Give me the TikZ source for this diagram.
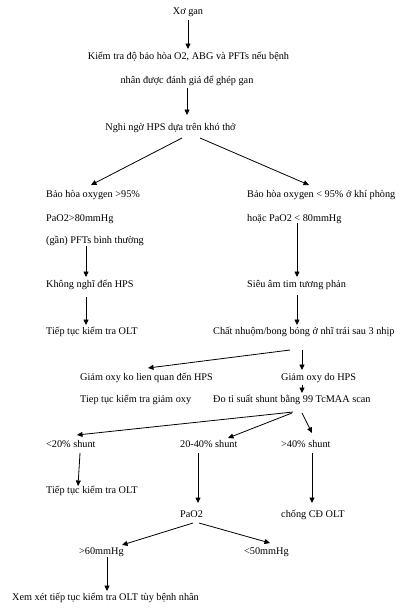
\documentclass[tikz,border=0pt]{standalone}
\usepackage{fontspec}
\setmainfont{Liberation Serif}
\usetikzlibrary{arrows.meta}
\begin{document}
\begin{tikzpicture}[x=1pt,y=-1pt,
  txt/.style={inner sep=0pt,anchor=mid west,font=\fontsize{10.25}{12}\selectfont},
  ctxt/.style={inner sep=0pt,anchor=mid,font=\fontsize{10.25}{12}\selectfont},
  arr/.style={draw=black,line width=0.8pt,-{Triangle[length=5.5pt,width=5pt]}}]
\fill[white] (0,0) rectangle (402,611);
\useasboundingbox (0,0) rectangle (402,611);
% nodes
\node[ctxt] (n1) at (188,12) {Xơ gan};
\node[ctxt] (n2) at (188.5,57) {Kiểm tra độ bảo hòa O2, ABG và PFTs nếu bệnh};
\node[ctxt] (n3) at (187,81) {nhân được đánh giá để ghép gan};
\node[ctxt] (n4) at (170.5,128) {Nghi ngờ HPS dựa trên khó thở};
\node[txt] (n5) at (46,195) {Bảo hòa oxygen >95\%};
\node[txt] (n6) at (46,219) {PaO2>80mmHg};
\node[txt] (n7) at (46,241) {(gần) PFTs bình thường};
\node[txt] (n8) at (247,195) {Bảo hòa oxygen < 95\% ở khí phòng};
\node[txt] (n9) at (247,219) {hoặc PaO2 < 80mmHg};
\node[txt] (n10) at (46,285) {Không nghĩ đến HPS};
\node[txt] (n11) at (46,332) {Tiếp tục kiểm tra OLT};
\node[txt] (n12) at (247,285) {Siêu âm tim tương phản};
\node[txt] (n13) at (213,332) {Chất nhuộm/bong bóng ở nhĩ trái sau 3 nhịp};
\node[txt] (n14) at (80,378) {Giảm oxy ko lien quan đến HPS};
\node[txt] (n15) at (80,400) {Tiep tục kiểm tra giảm oxy};
\node[txt] (n16) at (281,378) {Giảm oxy do HPS};
\node[txt] (n17) at (213,400) {Đo tỉ suất shunt bằng 99 TcMAA scan};
\node[txt] (n18) at (46,445) {<20\% shunt};
\node[txt] (n19) at (180,445) {20-40\% shunt};
\node[txt] (n20) at (281,445) {>40\% shunt};
\node[txt] (n21) at (46,491) {Tiếp tục kiểm tra OLT};
\node[txt] (n22) at (180,515) {PaO2};
\node[txt] (n23) at (281,515) {chống CĐ OLT};
\node[txt] (n24) at (79,552) {>60mmHg};
\node[txt] (n25) at (244,552) {<50mmHg};
\node[txt] (n26) at (12,598) {Xem xét tiếp tục kiểm tra OLT tùy bệnh nhân};
% connectors
\draw[arr] ([shift={(0,8)}]n1.mid) -- ([shift={(-0.5,-8)}]n2.mid);
\draw[arr] ([shift={(0,7)}]n3.mid) -- ([shift={(16.5,-13)}]n4.mid);
\draw[arr] ([shift={(11.5,10)}]n4.mid) -- ([shift={(45,-10)}]n5.mid west);
\draw[arr] ([shift={(29.5,10)}]n4.mid) -- ([shift={(62,-10)}]n8.mid west);
\draw[arr] ([shift={(40,5)}]n7.mid west) -- ([shift={(40,-8)}]n10.mid west);
\draw[arr] ([shift={(50,4)}]n9.mid west) -- ([shift={(50,-8)}]n12.mid west);
\draw[arr] ([shift={(40,12)}]n10.mid west) -- ([shift={(40,-7)}]n11.mid west);
\draw[arr] ([shift={(50,10)}]n12.mid west) -- ([shift={(84,-7)}]n13.mid west);
\draw[arr] ([shift={(77,18)}]n13.mid west) -- ([shift={(68,-10)}]n14.mid west);
\draw[arr] ([shift={(89,18)}]n13.mid west) -- ([shift={(21,-8)}]n16.mid west);
\draw[arr] ([shift={(21,7)}]n16.mid west) -- ([shift={(89,-7)}]n17.mid west);
\draw[arr] ([shift={(80,12)}]n17.mid west) -- ([shift={(31,-10)}]n18.mid west);
\draw[arr] ([shift={(79,13)}]n17.mid west) -- ([shift={(48,-7)}]n19.mid west);
\draw[arr] ([shift={(89,13)}]n17.mid west) -- ([shift={(31,-12)}]n20.mid west);
\draw[arr] ([shift={(34,8)}]n18.mid west) -- ([shift={(32,-5)}]n21.mid west);
\draw[arr] ([shift={(18,8)}]n19.mid west) -- ([shift={(18,-12)}]n22.mid west);
\draw[arr] ([shift={(31,8)}]n20.mid west) -- ([shift={(31,-12)}]n23.mid west);
\draw[arr] ([shift={(13,8)}]n22.mid west) -- ([shift={(43,-7)}]n24.mid west);
\draw[arr] ([shift={(19,8)}]n22.mid west) -- ([shift={(26,-9)}]n25.mid west);
\draw[arr] ([shift={(28,5)}]n24.mid west) -- ([shift={(95,-7)}]n26.mid west);
\end{tikzpicture}
\end{document}
